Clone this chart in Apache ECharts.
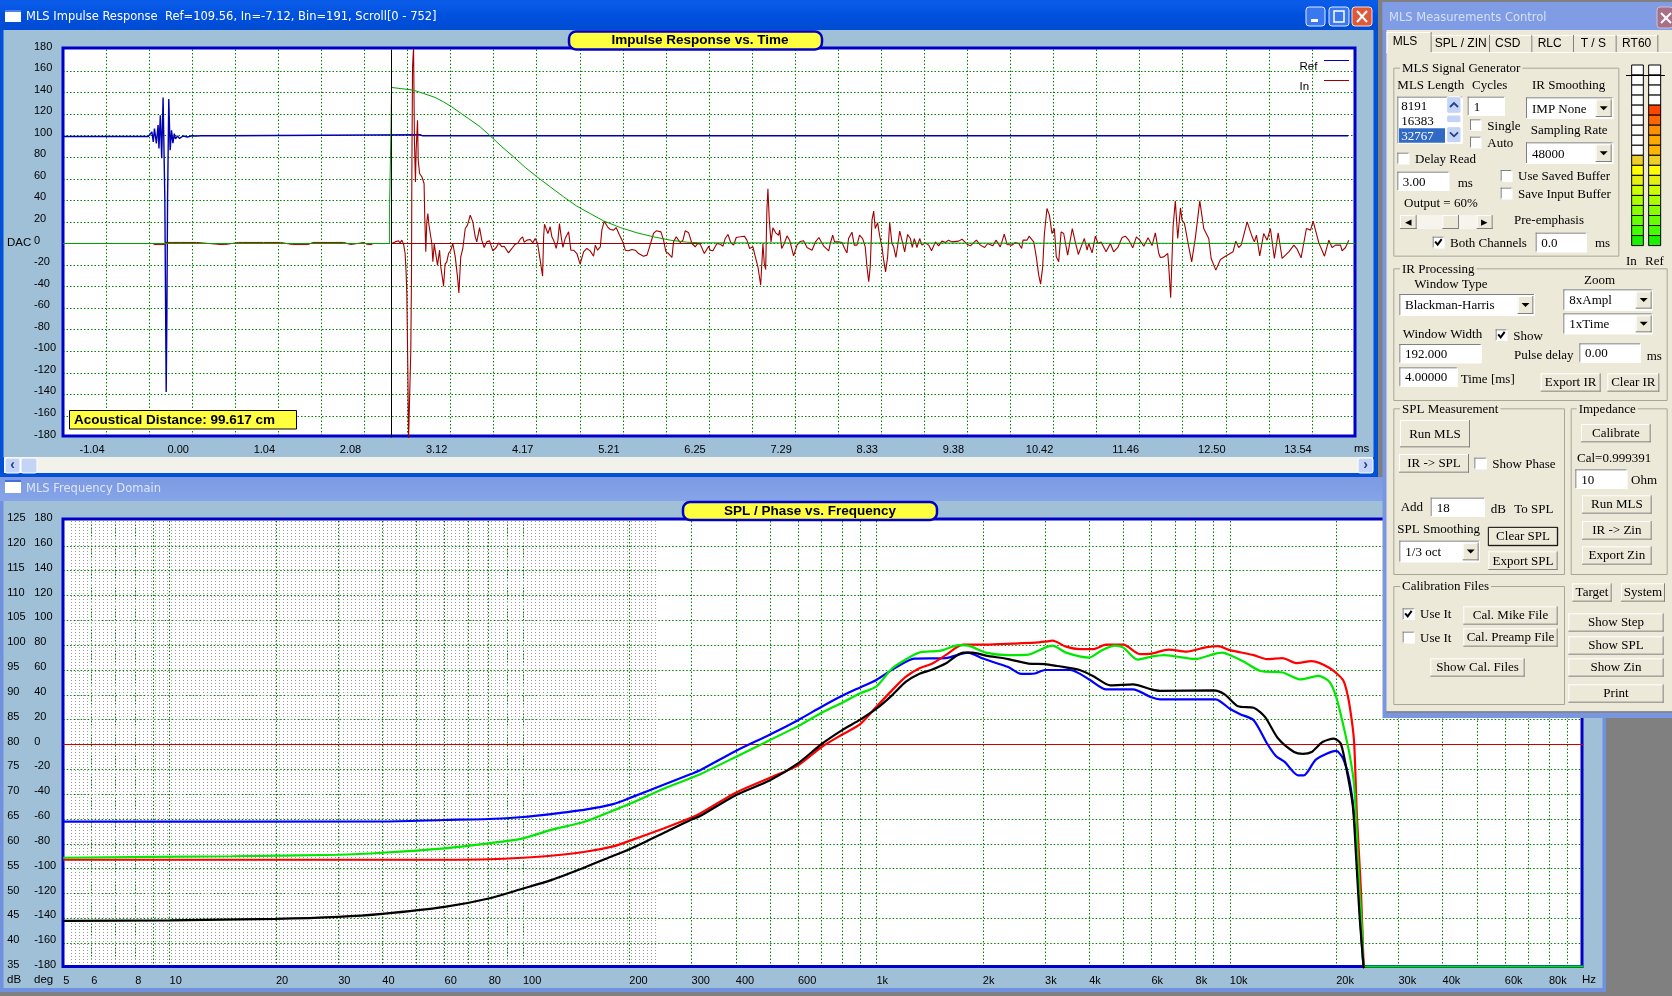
<!DOCTYPE html>
<html><head><meta charset="utf-8"><style>html,body{margin:0;padding:0;background:#808080}#c{width:1672px;height:996px}</style>
<script src="https://cdn.jsdelivr.net/npm/echarts@6/dist/echarts.min.js"></script></head><body><div id="c"></div>
<script>
// ---------- Impulse response data (bin, DAC) ----------
const timeTickBins=[25,75,125,175,225,275,325,375,425,475,525,575,625,675,725];
const timeTickLabels=['-1.04','0.00','1.04','2.08','3.12','4.17','5.21','6.25','7.29','8.33','9.38','10.42','11.46','12.50','13.54'];
const refTrace=[[0,99.3],[49.5,99.3],[51.6,103.6],[52.4,94.3],[53.1,106.7],[54.2,92.8],[55.2,110],[55.7,88.2],[56.5,119],[57.3,79.2],[58.1,135.5],[59.1,43.3],[59.6,-68],[59.9,-137.7],[60.3,-68],[60.7,43],[60.9,66.5],[61.4,134],[62.2,86.6],[63,105],[63.8,93],[64.6,102],[65.3,97],[66.4,99.7],[67.7,97.5],[69.7,99.7],[72.3,98.8],[74.9,100],[77.5,99.7],[80.1,100],[95.4,100],[95.7,100.9],[207.2,100.9],[208.5,100],[746,100]];
const preTrace=[[52.6,-1],[59.4,-1],[59.5,1],[60.5,1],[63.8,1],[68.4,1],[68.5,0],[72.6,1],[77.5,1],[77.6,0],[91.8,-1],[93.9,-1],[94,0],[102,1],[104,1],[104.1,0],[116.4,1],[126.3,1],[126.4,0],[133.3,-1],[142.3,-1],[142.4,0],[145,1],[163,1],[163.1,0],[167,-1],[167.5,0],[174.7,1],[175,0],[176.6,-1],[179.4,-1],[179.5,0]];
const inTraceA=[[190.7,0],[192.8,1.5],[193.8,0],[194.7,2.5],[195.7,.6],[196.7,3.1],[197.7,-.6],[198.6,-9.3],[199.2,-27.8],[199.6,-47.9],[200.2,-120],[200.6,-182],[201.5,-182],[201.9,-99],[202.3,-28],[202.5,63.1],[202.9,163.6],[203.5,182],[204,95],[204.6,57],[205,86.6],[205.8,114.4],[206.2,77.3],[207,65],[208.3,61.9],[209.6,55.7],[210,24.7],[210.6,-7.7],[211.2,20.1],[211.8,27.8],[212.4,17.6],[213.5,17.6],[214.1,0],[214.7,-17],[215.5,-.6],[216.6,-.6],[217.4,-20.1],[218.6,-6.2],[219.3,-21.7],[220.3,-32.5],[220.9,-39.6],[221.8,-19.2],[222.8,-17],[223.8,-9.3],[225.1,-6.2],[226.3,0],[227.7,-12.4],[229,-31],[229.8,-45.8],[230.9,-12.4],[232.1,-4.6],[233.5,13.9],[234.8,17],[236.4,26.3],[237.9,20.1],[239.3,6.2],[240.2,1.5],[241.8,14.8],[243.1,3.1],[244.5,-3.7],[246,1.5],[247.6,2.5],[249.5,-6.8],[251.5,-3.7],[253,.6],[254.8,-3.1],[256.1,-2.5],[258.6,-8.7],[260.6,-4.6],[262.5,-.6],[263.9,0],[265.4,4],[266.8,6.2],[267.7,1.2],[269.3,3.1],[271.2,3.7],[272.8,.6],[274.1,4.6],[275.5,0],[277,-15.5],[278.4,-30.3],[279,6.2],[279.5,17.9],[280.5,17.9],[281.5,9.3],[282.8,15.5],[283.8,6.2],[284.8,3.1],[286.3,-4.6],[287.3,3.1],[288.2,18.6],[289.2,6.2],[290.2,-3.7],[291.5,4.6],[293.5,10.8],[294.8,-6.2],[296.4,-6.2],[298.3,-9.3],[300.2,-19.2],[302.2,-7.7],[304.1,-4.6],[306,-6.8],[308,-11.8],[309,-1.5],[310.3,-6.2],[311.9,-3.1],[312.8,12.4],[314.2,20.7],[316.1,15.5],[317.7,13],[319.6,12.4],[321.1,14.8],[323.1,7.7],[325,1.5],[326.4,-6.2],[328.3,-6.8],[330.2,-5.6],[332.2,-6.2],[334.1,-9.3],[337,-11.8],[339,-10.8],[340.5,-3.1],[342.8,9.3],[344.4,11.8],[347.1,10.8],[348.6,3.1],[350,-7.7],[351.5,-9.3],[353.5,-13],[354.4,1.5],[356,6.2],[357.3,3.1],[358.3,.9],[359.9,3.1],[361.2,11.8],[363.2,9.9],[365.1,0],[367,-3.1],[368.4,0],[369.9,-.6],[372.3,-9.3],[374.8,-2.5],[375.7,-6.2],[377.3,-6.8],[379.6,0],[381.5,-.6],[383.1,-2.5],[384.4,4.6],[386,8.4],[387.7,.6],[389.3,-1.5],[390.8,5.6],[393.2,6.2],[395.5,6.8],[397,3.1],[398.6,-4.6],[400.5,-3.1],[401.9,-12.4],[403.4,-21.7],[405,-38.7],[406.3,0],[407.1,-18.6],[407.9,-24.1],[408.6,30.9],[409.2,50.7],[410,21.7],[411,1.5],[412.1,14.5],[413.7,9.9],[415.4,7.7],[416,12.4],[417.2,-4.6],[418.7,0],[420.3,7.1],[421.8,3.1],[424.1,-11.5],[426.1,-1.5],[428,1.9],[429.9,2.5],[431.9,-3.7],[434.8,-6.2],[436.7,1.2],[438.8,5.6],[441.6,-2.5],[444.5,-6.8]];
const inTraceB=[[445.4,0],[446.8,7.7],[447.9,1.5],[450.2,1.5],[452.2,.9],[453.7,-4.6],[455.1,-8.7],[456,4.6],[458,10.5],[459.3,-1.5],[460.9,-1.5],[462.4,7.7],[464.2,4.6],[465.7,-3.1],[466.7,-21.7],[467.7,-35.5],[468.6,-21.7],[469.6,21.7],[470.6,30],[471.5,13.9],[472.9,19.2],[474,7.7],[475.4,-3.1],[476.4,-15.5],[477.5,-26.3],[478.7,-12.4],[479.9,19.5],[481.2,0],[482.2,-3.1],[483.5,-13],[484.7,0],[485.7,11.5],[487,3.1],[488.6,-7.7],[490.3,8.4],[491.9,4.6],[493,-3.7],[494.2,4.6],[495.7,-3.7],[497.3,4.6],[498.6,-1.5],[500.6,.6],[502.5,-1.5],[504.2,-6.8],[506.4,1.5],[508.3,-2.2],[510.2,2.2],[512.2,.9],[514.1,3.1],[516,1.5],[519.9,2.2],[521.9,4],[524.8,-.6],[526.7,-2.2],[530.2,3.1],[532.5,-1.5],[535,-3.7],[536.8,0],[539.7,-2.2],[541.6,3.1],[544.1,-3.1],[546.4,8.7],[548,-.9],[550.9,-1.5],[552.8,.9],[554.8,0],[556.5,-4.6],[557.3,3.1],[559.6,3.1],[560.8,6.8],[563.5,1.5],[565,-12.4],[566.4,-29.4],[567.5,-37.7],[568.7,-21.7],[569.7,9.3],[571.2,32.5],[572.6,26.3],[574.1,9.3],[575.5,13.9],[576.6,-12.4],[578,-17],[579.4,10.8],[580.9,9.3],[583.2,-10.8],[585.9,13.9],[587.7,.9],[589.4,-10.2],[591,-3.1],[592.9,4.6],[594.5,-6.2],[595.4,0],[597.4,-8.7],[599.3,6.8],[600.8,0],[602.6,1.5],[605.5,-7.7],[608,0],[609.9,-7.7],[612.3,-3.7],[614.8,5.6],[616.7,6.8],[618.7,3.1],[621,-4],[623.1,6.2],[625,3.1],[627.4,-2.5],[629.9,5.3],[632.2,-1.9],[634.1,9.9],[636.1,-9.3],[637,-13],[639,-12.4],[641.3,-9.3],[641.9,-21.7],[643,-50.4],[644.4,15.5],[645.7,39.6],[647.1,4.6],[648.7,33],[649.6,21.7],[651,18.6],[653.5,-3.1],[655.2,-17],[657.4,6.2],[659.9,39.6],[662.2,13.9],[665.1,4.6],[666.5,-13.9],[669.2,-24.7],[671.9,-14.8],[674.8,-11.8],[679.2,-7.7],[680.8,2.2],[682.5,-3.7],[683.9,-1.5],[687.4,20.1],[690.3,6.2],[691.6,1.5],[692.8,7.7],[694.7,-11.5],[697,9.3],[699,3.1],[700.9,13.9],[703.2,-13.9],[705.4,9.9],[707.7,-13.9],[711.6,-7.7],[714.5,-1.5],[716.4,-5.3],[718.7,-13.3],[721.8,13.9],[724.2,12.4],[725.7,20.7],[729,.6],[732.3,-11.8],[734.8,3.1],[736.7,-3.7],[738.7,-1.5],[741.6,-1.5],[742.5,-6.8],[744.5,-3.7],[746.4,3.1]];
const windowTrace=[[0,0],[189.6,0],[189.6,36],[190.4,36],[190.4,108],[190.7,108],[190.7,144.8],[195.7,143.8],[203.5,142.3],[209.3,139.2],[216,135.5],[220.9,131.4],[225.7,126.8],[230.6,121.2],[235.4,115.9],[242.2,108.2],[248,99.9],[254.8,89.7],[261.5,80.5],[268.3,70.6],[275.1,61.9],[282.8,52.6],[290.6,43.3],[298.3,34.6],[306,27.8],[313.8,21],[323.5,14.8],[333.2,9.9],[342.8,6.2],[352.5,3.1],[362.2,1.2],[370.9,.6],[371,0],[750,0]];
const inBaseline=[[191,0],[371,0]];
const cursorLine=[[190.7,-180],[190.7,180]];
// ---------- Frequency domain data (Hz, dB) ----------
const freqLabels=[5,6,8,10,20,30,40,60,80,100,200,300,400,600,1000,2000,3000,4000,6000,8000,10000,20000,30000,40000,60000,80000];
const blueCurve=[[5,64.46],[40,64.5],[60,64.8],[80,65],[100,65.4],[120,66],[150,66.9],[180,68],[200,69.2],[250,71.9],[300,74.1],[317,74.8],[400,78.7],[500,82],[600,84.9],[700,87.6],[800,89.8],[900,91.5],[1000,93],[1140,95.6],[1280,97.3],[1570,97.4],[1815,98.5],[2000,97.3],[2360,95.6],[2570,94.2],[2810,94.3],[3000,95],[3540,95],[4000,93.1],[4470,91.1],[5000,91.1],[5320,91.1],[6000,89.5],[6340,89.1],[8000,89.1],[9120,89.1],[10000,87.2],[10700,86.1],[11680,84.9],[12750,80.2],[13500,77.7],[14300,76.5],[15600,73.8],[16200,73.8],[17550,77],[20000,78.7],[20900,77.2],[21800,72.8],[22500,65.4],[23100,52],[23600,40.6],[23900,35.4],[24000,35]];
const greenCurve=[[5,57.2],[15,57.5],[30,57.8],[40,58.2],[60,59.1],[80,60.1],[100,61.1],[120,62.8],[150,64.5],[180,66.7],[200,68],[250,71.1],[300,73.3],[317,74],[400,77.5],[500,80.9],[600,83.7],[700,86.4],[800,88.4],[900,90.3],[1000,91.7],[1107,95.3],[1210,97.1],[1320,98.5],[1520,98.9],[1710,100],[1840,99.8],[2040,98.5],[2360,98],[2690,98.1],[3000,99.5],[3150,99.9],[3440,98.5],[4000,97.5],[4350,99],[4740,99.9],[5000,99.5],[5480,97.1],[6000,97.7],[6530,98],[8000,97.2],[9000,98.2],[9530,98.5],[10000,98],[11000,96.6],[12200,94.8],[14100,94.5],[15900,93.1],[17800,93.8],[19150,92.6],[20000,89.6],[20900,84.2],[21800,78.2],[22500,71.5],[23100,55.4],[23700,41.9],[24100,35.3],[100000,35.3]];
const redCurve=[[5,56.8],[60,56.8],[80,56.9],[100,57.2],[120,57.6],[150,58.4],[180,59.5],[200,60.6],[250,63.1],[300,65.3],[317,66.1],[400,70.3],[500,73.3],[600,75.8],[700,79.5],[800,82],[900,84.1],[1000,87.6],[1107,90.9],[1210,93.6],[1320,95.3],[1440,96.3],[1570,98],[1760,100.1],[2040,100.1],[2430,100.3],[2810,100.5],[3000,100.7],[3150,100.9],[3440,99.7],[3760,99.2],[4100,99.2],[4470,100.1],[5000,100.1],[5560,98.2],[6000,98.3],[6720,99.1],[7550,98.7],[8480,99.5],[9260,99.8],[10000,99],[11680,98],[12750,97.2],[14100,97.4],[15400,96.4],[17050,96.8],[19150,95.4],[20900,93],[21600,89.6],[22200,84.2],[22500,80],[22900,65.4],[23500,50.7],[23900,36],[24000,35]];
const blackCurve=[[5,44.5],[10,44.6],[20,44.9],[30,45.3],[40,45.9],[60,47.3],[80,49],[100,51],[120,52.7],[150,55.3],[180,57.6],[200,58.9],[250,62.2],[300,64.9],[317,65.6],[400,69.8],[500,72.8],[600,76.2],[700,80.1],[800,82.9],[900,85],[1000,87.2],[1107,89.9],[1210,92.6],[1320,94.2],[1440,95.1],[1570,96.3],[1760,98.5],[1870,98.5],[2040,97.9],[2360,97.2],[2690,96.3],[3000,96.2],[3250,95.8],[3760,95],[4100,93.8],[4600,91.9],[5320,92.1],[6000,91.1],[6340,90.8],[9000,90.9],[9670,90.1],[10550,87.7],[11680,87.4],[12560,85.6],[13700,81.2],[15200,78.5],[16100,78.1],[17050,78.5],[18300,80.5],[19700,81.2],[20600,80.2],[21500,74.2],[22300,67.5],[22800,56.7],[23300,45.3],[23900,35.4],[24000,35]];
const zeroPhase=[[5,80],[100000,80]];

// gridline frequencies
const gridFreqs=[5,6,7,8,9];
[10,100,1000,10000].forEach(d=>{for(let k=1;k<=9;k++)gridFreqs.push(k*d);});
gridFreqs.push(100000);
const fineFreqs=[];for(let f=5.13;f<245;f*=1.0264)fineFreqs.push(f);

// ---------- chrome helpers ----------
const els=[];
const SERIF='13px "Liberation Serif"', SANS='12px "Liberation Sans"', CAP='11.5px "DejaVu Sans"';
function R(x,y,w,h,fill,z,stroke,lw,r){els.push({type:'rect',silent:true,z:z,shape:{x,y,width:w,height:h,r:r||0},style:{fill:fill,stroke:stroke||null,lineWidth:lw||0}});}
function L(x1,y1,x2,y2,c,z,lw){els.push({type:'line',silent:true,z:z,shape:{x1,y1,x2,y2},style:{stroke:c,lineWidth:lw||1}});}
function T(x,y,s,z,font,fill,align){els.push({type:'text',silent:true,z:z,x:x,y:y,style:{text:s,font:font||SERIF,fill:fill||'#000',align:align||'left',verticalAlign:'middle'}});}
const Z=100;
const px=c=>1380+c/3, ay=c=>c/3, by=c=>390+c/3;
function box(x1,y1,x2,y2,fy){return [px(x1),fy(y1),(x2-x1)/3,(y2-y1)/3];}
function raised(x,y,w,h,dark){R(x,y,w,h,'#ece9d8',Z+1);L(x,y+.5,x+w,y+.5,'#fff',Z+2);L(x+.5,y,x+.5,y+h,'#fff',Z+2);L(x,y+h-.5,x+w,y+h-.5,'#808080',Z+2);L(x+w-.5,y,x+w-.5,y+h,'#808080',Z+2);if(dark)R(x,y,w,h,null,Z+3,'#000',1);}
function sunken(x,y,w,h){R(x,y,w,h,'#fff',Z+1);L(x,y+.5,x+w,y+.5,'#808080',Z+2);L(x+.5,y,x+.5,y+h,'#808080',Z+2);L(x,y+h-.5,x+w,y+h-.5,'#fff',Z+2);L(x+w-.5,y,x+w-.5,y+h,'#fff',Z+2);}
function btn(x1,x2,y1,y2,fy,s,dark){const b=box(x1,y1,x2,y2,fy);raised(b[0],b[1],b[2],b[3],dark);T(b[0]+b[2]/2,b[1]+b[3]/2+.5,s,Z+4,SERIF,'#000','center');}
function input(x1,x2,y1,y2,fy,s,tx){const b=box(x1,y1,x2,y2,fy);sunken(b[0],b[1],b[2],b[3]);T(px(tx),b[1]+b[3]/2+1,s,Z+4);}
function combo(x1,x2,y1,y2,fy,s,tx,bx1,bx2){input(x1,x2,y1,y2,fy,s,tx);const bb=box(bx1,y1+6,bx2,y2-6,fy);raised(bb[0],bb[1],bb[2],bb[3]);els.push({type:'polygon',silent:true,z:Z+4,shape:{points:[[bb[0]+bb[2]/2-4,bb[1]+bb[3]/2-2],[bb[0]+bb[2]/2+4,bb[1]+bb[3]/2-2],[bb[0]+bb[2]/2,bb[1]+bb[3]/2+2]]},style:{fill:'#000'}});}
function check(x1,x2,y1,y2,fy,on){const b=box(x1,y1,x2,y2,fy);sunken(b[0],b[1],b[2],b[3]);if(on)els.push({type:'polyline',silent:true,z:Z+4,shape:{points:[[b[0]+2.5,b[1]+5],[b[0]+5,b[1]+8],[b[0]+9,b[1]+2.5]]},style:{stroke:'#000',lineWidth:2,fill:null}});}
function group(x1,x2,y1,y2,fy,title,tx){const b=box(x1,y1,x2,y2,fy);R(b[0]+.5,b[1]+.5,b[2],b[3],null,Z+1,'#a8a698',1);els.push({type:'text',silent:true,z:Z+2,x:px(tx),y:b[1]+1,style:{text:title,font:SERIF,fill:'#000',align:'left',verticalAlign:'middle',backgroundColor:'#ece9d8',padding:[0,2,0,2]}});}
function label(cx,cy,fy,s){T(px(cx),fy(cy)+1,s,Z+4);}
function chevron(cx,cy,up){const x=px(cx),y=ay(cy),d=up?-2:2;els.push({type:'polyline',silent:true,z:Z+4,shape:{points:[[x-4,y-d],[x,y+d],[x+4,y-d]]},style:{stroke:'#24408a',lineWidth:1.8,fill:null}});}

// background windows
R(0,0,1378,477,'#0050d8',-20);
els.push({type:'rect',silent:true,z:-19,shape:{x:0,y:0,width:1378,height:30},style:{fill:new echarts.graphic.LinearGradient(0,0,0,1,[{offset:0,color:'#0a5ae6'},{offset:.12,color:'#0a5ce8'},{offset:.5,color:'#0050de'},{offset:1,color:'#004cd2'}])}});
R(3.5,30,1370,427,'#a0c0d8',-18);
R(4,457,1369,16,'#f2f1ea',-18);
R(5,458,15,15,'#c4d4f6',-17,'#ffffff',1,2);T(12.5,465.5,'‹',-16,'bold 14px "Liberation Sans"','#24408a','center');
R(21,458,16,15,'#c4d4f6',-17,'#ffffff',1,2);
R(1358,458,15,15,'#c4d4f6',-17,'#ffffff',1,2);T(1365.5,465.5,'›',-16,'bold 14px "Liberation Sans"','#24408a','center');
R(5,11,16,11,'#ffffff',-17);R(5,10,16,2,'#5080e8',-16);
T(26,17,'MLS Impulse Response  Ref=109.56, In=-7.12, Bin=191, Scroll[0 - 752]',-16,CAP,'#fff');
R(1306,7,19,19,'#3a78f0',-17,'#e0e8ff',1,3);R(1311,19,7,3,'#fff',-16);
R(1329,7,20,19,'#3a78f0',-17,'#e0e8ff',1,3);R(1334,11,10,11,null,-16,'#fff',1.5);
R(1352,7,20,19,'#e0583a',-17,'#f4e0d8',1,3);L(1357,11,1367,22,'#fff',-16,2);L(1367,11,1357,22,'#fff',-16,2);

R(0,477,1606,515,'#7090e0',-20);
els.push({type:'rect',silent:true,z:-19,shape:{x:0,y:477,width:1606,height:24},style:{fill:new echarts.graphic.LinearGradient(0,0,0,1,[{offset:0,color:'#7d9ae2'},{offset:1,color:'#86a4e8'}])}});
R(3.5,501,1599,487,'#a0c0d8',-18);
R(5,481,16,12,'#fff',-17);R(5,480,16,2,'#4070d8',-16);
T(26,489,'MLS Frequency Domain',-16,CAP,'#dce6fa');

// plot backgrounds (white) and frames
R(63,48,1292,388,'#fff',-15);
R(63,519,1519,447.5,'#fff',-15);
R(63,48,1292,388,null,1,'#0000c8',3);
R(63,519,1519,447.5,null,1,'#0000c8',3);
// title pills
R(569,31.5,253,18,'#ffff40',30,'#0000c8',2.5,7);
T(700,40.5,'Impulse Response vs. Time',31,'bold 13.5px "Liberation Sans"','#000','center');
R(683,502,254,18,'#ffff40',30,'#0000c8',2.5,7);
T(810,511,'SPL / Phase vs. Frequency',31,'bold 13.5px "Liberation Sans"','#000','center');
// distance box
R(69.5,410.5,227,18.5,'#ffff40',30,'#000',1);
T(74,420,'Acoustical Distance: 99.617 cm',31,'bold 13.5px "Liberation Sans"','#000');
// legend and axis captions
const AX='11.5px "Liberation Sans"';
T(7,243,'DAC',5,AX);T(1354,449,'ms',5,AX);
T(7,980,'dB',5,AX);T(34,980,'deg',5,AX);T(1582,980,'Hz',5,AX);
T(1299.5,67,'Ref',5,AX);T(1299.5,87,'In',5,AX);
L(1324,60.5,1349,60.5,'#0000c0',5);L(1324,80.5,1349,80.5,'#a00000',5);

// control panel
R(1382.5,2,290,716,'#7a96df',Z-1);
R(1382.5,2,290,28,'#7f9ce4',Z-1);
R(1386.5,30,286,681.5,'#ece9d8',Z);
L(1386,712,1672,712,'#808080',Z+1,1.5);
T(1389,18,'MLS Measurements Control',Z+2,CAP,'#d4e0f6');
R(1657,7,16,21,'#a87088',Z+1,'#d0c0d0',1,3);L(1661,13,1671,23,'#fff',Z+2,2);L(1671,13,1661,23,'#fff',Z+2,2);
// tabs
L(1386,52.5,1672,52.5,'#fff',Z+1);
[['MLS',20,155,75,1],['SPL / ZIN',155,330,242],['CSD',330,457,383],['RLC',457,582,509],['T / S',582,710,640],['RT60',710,835,770]].forEach(t=>{
  const x1=px(t[1]),x2=px(t[2]),c=px(t[3]);
  if(t[4]){R(x1,32,x2-x1,21,'#ece9d8',Z+2);L(x1,32.5,x2,32.5,'#fff',Z+3);L(x1+.5,32,x1+.5,52,'#fff',Z+3);L(x2-.5,32,x2-.5,52,'#808080',Z+3);T(c,42,t[0],Z+4,SANS,'#000','center');}
  else{L(x1,35.5,x2,35.5,'#fff',Z+3);L(x2-.5,35,x2-.5,52,'#808080',Z+3);T(c,44,t[0],Z+4,SANS,'#000','center');}
});
// MLS Signal Generator
group(40,715,203,767,ay,'MLS Signal Generator',60);
label(52,255,ay,'MLS Length');label(276,255,ay,'Cycles');label(456,255,ay,'IR Smoothing');
(function(){const b=box(52,290,248,432,ay);sunken(b[0],b[1],b[2],b[3]);
 const s=box(57,385,195,428,ay);R(s[0],s[1],s[2],s[3],'#316ac5',Z+2);
 label(64,317,ay,'8191');label(64,362,ay,'16383');T(px(64),ay(406)+1,'32767',Z+4,SERIF,'#fff');
 [[290,340],[345,368],[380,428]].forEach(p=>{const q=box(200,p[0],243,p[1],ay);R(q[0],q[1],q[2],q[3],'#c4d4f6',Z+3,'#fff',1,2);});
 chevron(222,315,true);chevron(222,403,false);
})();
input(263,375,290,348,ay,'1',281);
check(270,304,358,393,ay);label(322,378,ay,'Single');check(270,304,410,445,ay);label(322,428,ay,'Auto');
combo(438,700,292,357,ay,'IMP None',456,647,695);
label(452,390,ay,'Sampling Rate');
combo(438,700,427,492,ay,'48000',456,647,695);
check(52,88,458,493,ay);label(105,477,ay,'Delay Read');
input(52,208,515,573,ay,'3.00',68);label(233,547,ay,'ms');
check(362,397,510,545,ay);label(414,527,ay,'Use Saved Buffer');
check(362,397,563,598,ay);label(414,581,ay,'Save Input Buffer');
label(72,608,ay,'Output = 60%');
(function(){const t=box(60,645,338,687,ay);R(t[0],t[1],t[2],t[3],'#f6f4ec',Z+1);
 btn(60,110,645,687,ay,'◂');btn(290,338,645,687,ay,'▸');const q=box(187,645,237,687,ay);raised(q[0],q[1],q[2],q[3]);})();
label(402,660,ay,'Pre-emphasis');
check(158,193,710,745,ay,true);label(210,729,ay,'Both Channels');
input(467,620,698,757,ay,'0.0',484);label(645,727,ay,'ms');
// meters
const meterIn=['#fff','#fff','#fff','#fff','#fff','#fff','#fff','#fff','#fff','#ecd028','#ffff00','#e4f010','#ccff00','#aaff00','#88ff00','#66ff00','#44ff00','#1cf000'];
const meterRef=['#fff','#fff','#fff','#fff','#ff4400','#ff6600','#ff9000','#ffa800','#ffb400','#ecd028','#ffff00','#e4f010','#ccff00','#aaff00','#88ff00','#66ff00','#44ff00','#1cf000'];
[[755,790,meterIn],[806,842,meterRef]].forEach(m=>{m[2].forEach((c,i)=>{const y=195+i*30.1;R(px(m[0]),ay(y),(m[1]-m[0])/3,10.03,c,Z+1,'#000',1);});});
L(px(738),ay(226.5),px(855),ay(226.5),'#000',Z+3);
label(738,782,ay,'In');label(795,782,ay,'Ref');
// IR Processing
group(40,860,805,1200,ay,'IR Processing',60);
label(103,852,ay,'Window Type');
combo(58,465,882,948,ay,'Blackman-Harris',75,413,460);
label(612,840,ay,'Zoom');
combo(550,818,868,932,ay,'8xAmpl',568,767,815);
combo(550,818,940,1003,ay,'1xTime',568,767,815);
label(68,1001,ay,'Window Width');
check(347,382,988,1023,ay,true);label(400,1007,ay,'Show');
input(58,305,1032,1090,ay,'192.000',75);
label(402,1065,ay,'Pulse delay');input(598,783,1030,1088,ay,'0.00',615);label(800,1067,ay,'ms');
input(58,233,1102,1160,ay,'4.00000',75);label(242,1136,ay,'Time [ms]');
btn(482,662,1120,1175,ay,'Export IR');btn(682,838,1120,1175,ay,'Clear IR');
// SPL Measurement
group(40,552,55,552,by,'SPL Measurement',60);
btn(60,270,90,172,by,'Run MLS');btn(57,267,192,248,by,'IR -> SPL');
check(283,320,203,238,by);label(337,222,by,'Show Phase');
label(62,350,by,'Add');input(152,315,323,381,by,'18',170);label(332,356,by,'dB');label(403,356,by,'To SPL');
label(52,417,by,'SPL Smoothing');combo(58,300,452,517,by,'1/3 oct',76,248,296);
btn(325,533,412,467,by,'Clear SPL',true);btn(325,533,484,540,by,'Export SPL');
// Impedance
group(572,860,55,552,by,'Impedance',590);
btn(603,812,102,157,by,'Calibrate');label(591,204,by,'Cal=0.999391');
input(586,742,238,297,by,'10',604);label(753,270,by,'Ohm');
btn(606,815,316,371,by,'Run MLS');btn(606,815,393,449,by,'IR -> Zin');btn(606,815,469,524,by,'Export Zin');
// Calibration
group(40,552,588,942,by,'Calibration Files',60);
check(68,104,655,690,by,true);label(120,672,by,'Use It');check(68,104,725,760,by);label(120,743,by,'Use It');
btn(250,533,649,704,by,'Cal. Mike File');btn(250,533,715,770,by,'Cal. Preamp File');btn(151,434,805,860,by,'Show Cal. Files');
btn(577,695,580,635,by,'Target');btn(723,855,580,635,by,'System');
btn(565,851,670,725,by,'Show Step');btn(565,851,739,794,by,'Show SPL');btn(565,851,805,860,by,'Show Zin');btn(565,851,883,938,by,'Print');

// ---------- chart ----------
const GREEN={color:'#008000',width:1,type:[1.5,2]};
const axisText={fontFamily:'Liberation Sans',fontSize:11,color:'#000'};
const off={show:false};
function yA(grid,min,max,interval,margin,split){return {type:'value',gridIndex:grid,position:'left',min,max,interval,axisLine:off,axisTick:off,
 axisLabel:Object.assign({align:'left',margin:margin,verticalAlign:'bottom',lineHeight:6},axisText),
 splitLine:split?{show:true,showMinLine:false,showMaxLine:false,lineStyle:GREEN}:off};}
function ln(name,data,color,w,xi,yi,z,sm){const s={name,type:'line',data,xAxisIndex:xi,yAxisIndex:yi,showSymbol:false,symbol:'none',smooth:false,lineStyle:{color,width:w},itemStyle:{color},z:z,silent:true,animation:false,clip:true};if(sm){s.smooth=0.25;}return s;}
const chart=echarts.init(document.getElementById('c'),null,{renderer:'canvas',width:1672,height:996});
chart.setOption({animation:false,backgroundColor:'#808080',
 graphic:{elements:els},
 grid:[{left:63,top:49.5,width:1292,height:388},{left:63.2,top:521,width:1520,height:447}],
 xAxis:[
  {type:'value',gridIndex:0,min:0,max:750,interval:25,axisLine:off,axisTick:off,
   axisLabel:Object.assign({customValues:timeTickBins,margin:7,align:'center',padding:[0,28,0,0],formatter:v=>timeTickLabels[timeTickBins.indexOf(Math.round(v))]},axisText),
   splitLine:{show:true,showMinLine:false,showMaxLine:false,lineStyle:GREEN}},
  {type:'log',logBase:10,gridIndex:1,min:5,max:100000,axisLine:off,axisTick:{show:false,customValues:gridFreqs},
   axisLabel:Object.assign({customValues:freqLabels,margin:7,align:'left',formatter:v=>{const n=Math.round(v);return n>=1000?(n/1000)+'k':String(n);}},axisText),
   splitLine:{show:true,showMinLine:false,showMaxLine:false,lineStyle:GREEN}},
  {type:'log',logBase:10,gridIndex:1,min:5,max:100000,axisLine:off,axisTick:{show:false,customValues:fineFreqs},axisLabel:off,
   splitLine:{show:true,showMinLine:false,showMaxLine:false,lineStyle:{color:'#9a9a9a',width:1,type:[1,2]}}}
 ],
 yAxis:[yA(0,-180,180,20,29,true),yA(1,-180,180,20,29,true),yA(1,35,125,5,56,false)],
 series:[
  ln('Ref',refTrace,'#0000b0',1.4,0,0,3),
  ln('InLead',preTrace,'#a00000',1,0,0,3),
  ln('In',inTraceA.concat(inTraceB),'#a00000',1.1,0,0,4),
  ln('InBase',inBaseline,'#a00000',1,0,0,4),
  ln('Window',windowTrace,'#00a000',1,0,0,5),
  ln('Cursor',cursorLine,'#000',1,0,0,6),
  ln('Zero',zeroPhase,'#d00000',1,1,2,3),
  ln('SPL blue',blueCurve,'#0000ff',2.2,1,2,4,true),
  ln('SPL red',redCurve,'#ff0000',2.2,1,2,5,true),
  ln('SPL green',greenCurve,'#00e800',2.2,1,2,6,true),
  ln('SPL black',blackCurve,'#000000',2.2,1,2,7,true)
 ]});
</script></body></html>
